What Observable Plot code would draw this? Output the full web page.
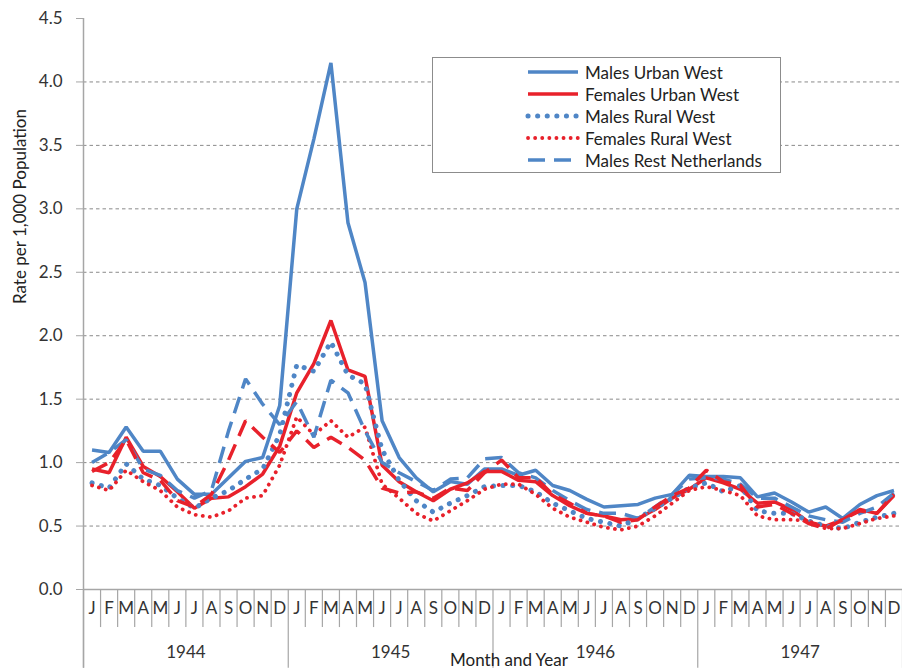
<!DOCTYPE html>
<html><head><meta charset="utf-8">
<script src="https://cdn.jsdelivr.net/npm/d3@7"></script>
<script src="https://cdn.jsdelivr.net/npm/@observablehq/plot@0.6"></script>
<style>
body{margin:0;background:#fff;font-family:Lato,"Open Sans",sans-serif;}
#wrap{position:relative;width:902px;height:670px;overflow:hidden;}
#legend{position:absolute;left:432px;top:57px;width:349px;height:116px;border:1.5px solid #8c8c8c;background:#fff;box-sizing:border-box;}
.row{position:absolute;left:92px;height:22px;display:flex;align-items:center;font-size:17px;color:#222;white-space:nowrap;}
.row svg{margin-right:4px;}
</style></head>
<body><div id="wrap"><div id="chart"></div><div id="legend"></div></div>
<script>
const monthLabels = ["J","F","M","A","M","J","J","A","S","O","N","D"];
const yearLabels = ["1944","1945","1946","1947"];
const yTicks = [0,0.5,1,1.5,2,2.5,3,3.5,4,4.5];

const malesUrbanWest = [
 1.10,1.08,1.28,1.09,1.09,0.87,0.75,0.75,0.88,1.01,1.04,1.45,
 3.00,3.55,4.15,2.89,2.42,1.33,1.04,0.88,0.77,0.85,0.83,0.95,
 0.95,0.90,0.94,0.82,0.78,0.71,0.65,0.66,0.67,0.72,0.75,0.90,
 0.89,0.89,0.88,0.73,0.76,0.69,0.61,0.65,0.56,0.67,0.74,0.78];
const femalesUrbanWest = [
 0.95,0.92,1.20,0.97,0.89,0.77,0.64,0.72,0.73,0.81,0.91,1.13,
 1.55,1.78,2.12,1.73,1.68,0.98,0.85,0.77,0.70,0.79,0.84,0.93,
 0.93,0.86,0.85,0.74,0.66,0.60,0.58,0.55,0.56,0.63,0.72,0.79,
 0.88,0.84,0.79,0.68,0.69,0.63,0.53,0.50,0.55,0.63,0.60,0.74];
const malesRuralWest = [
 0.84,0.80,0.99,0.87,0.82,0.72,0.64,0.72,0.78,0.87,0.95,1.22,
 1.77,1.72,1.95,1.69,1.62,1.10,0.86,0.70,0.61,0.68,0.74,0.81,
 0.82,0.82,0.77,0.68,0.62,0.56,0.53,0.50,0.56,0.64,0.72,0.80,
 0.84,0.77,0.82,0.62,0.60,0.60,0.54,0.50,0.48,0.53,0.57,0.60];
const femalesRuralWest = [
 0.82,0.78,0.94,0.85,0.78,0.65,0.59,0.57,0.62,0.72,0.74,0.98,
 1.36,1.22,1.33,1.20,1.28,0.83,0.72,0.60,0.54,0.62,0.70,0.79,
 0.83,0.83,0.75,0.64,0.57,0.53,0.49,0.47,0.50,0.58,0.68,0.78,
 0.81,0.78,0.74,0.58,0.55,0.55,0.54,0.48,0.48,0.52,0.56,0.58];
const malesRestNetherlands = [
 1.00,1.08,1.18,0.95,0.90,0.78,0.72,0.78,1.25,1.66,1.46,1.30,
 1.48,1.20,1.65,1.55,1.25,1.00,0.92,0.85,0.78,0.87,0.88,1.03,
 1.04,0.92,0.88,0.78,0.70,0.63,0.60,0.60,0.56,0.65,0.75,0.87,
 0.88,0.87,0.83,0.72,0.72,0.65,0.58,0.55,0.53,0.60,0.65,0.76];
const femalesRestNetherlands = [
 0.93,1.00,1.18,0.92,0.86,0.70,0.65,0.75,1.02,1.33,1.20,1.08,
 1.25,1.12,1.20,1.12,1.02,0.80,0.76,0.77,0.72,0.80,0.78,0.92,
 1.02,0.88,0.88,0.75,0.68,0.60,0.58,0.53,0.55,0.65,0.74,0.80,
 0.94,0.85,0.82,0.65,0.67,0.60,0.52,0.48,0.55,0.62,0.60,0.75];

const BLUE = "#4f86c6", RED = "#e8212b";
const series = [
 {name:"Males Urban West", values:malesUrbanWest, color:BLUE, width:3.5, dash:null, cap:"butt", legend:true},
 {name:"Females Urban West", values:femalesUrbanWest, color:RED, width:3.5, dash:null, cap:"butt", legend:true},
 {name:"Males Rural West", values:malesRuralWest, color:BLUE, width:5, dash:"0.1,9.5", cap:"round", legend:true},
 {name:"Females Rural West", values:femalesRuralWest, color:RED, width:3.8, dash:"0.1,7", cap:"round", legend:true},
 {name:"Males Rest Netherlands", values:malesRestNetherlands, color:BLUE, width:3.5, dash:"17,9", cap:"butt", legend:true},
 {name:"Females Rest Netherlands", values:femalesRestNetherlands, color:RED, width:3.5, dash:"17,9", cap:"butt", legend:false}
];

const idx = d3.range(48);
const monthSeps = d3.range(49).map(i => i - 0.5).filter(v => (v + 0.5) % 12 !== 0);
const yearSeps = [-0.5, 11.5, 23.5, 35.5, 47.5];
const yearCenters = [5.5, 17.5, 29.5, 41.5];

const lineMarks = series.map(s => Plot.line(idx.map(i => ({i, v: s.values[i]})), {
  x: "i", y: "v", stroke: s.color, strokeWidth: s.width,
  strokeDasharray: s.dash, strokeLinecap: s.cap, strokeLinejoin: "miter", curve: "linear"
}));

const chart = Plot.plot({
  width: 902, height: 670,
  marginTop: 18, marginBottom: 81, marginLeft: 83, marginRight: 0,
  style: {fontFamily: "Lato, 'Open Sans', sans-serif", fontSize: "16px", color: "#333", background: "#fff"},
  x: {domain: [-0.5, 47.5], axis: null},
  y: {domain: [0, 4.5], axis: null},
  marks: [
    Plot.gridY(yTicks.filter(t => t > 0 && t < 4.5), {stroke: "#8a8a8a", strokeOpacity: 1, strokeDasharray: "3.5,3", strokeWidth: 1}),
    Plot.ruleY([0], {stroke: "#a6a6a6", strokeWidth: 1.5}),
    Plot.ruleX(monthSeps, {y1: 0, y2: -0.3, stroke: "#a6a6a6", strokeWidth: 1.2}),
    Plot.ruleX(yearSeps, {y1: 0, y2: -0.62, stroke: "#a6a6a6", strokeWidth: 1.2}),
    Plot.ruleX([-0.5], {y1: 4.5, y2: -0.62, stroke: "#a6a6a6", strokeWidth: 1.5}),
    Plot.axisY({ticks: yTicks, tickFormat: d3.format(".1f"), tickSize: 7, tickPadding: 14, stroke: "#a6a6a6", fontSize: 17, label: null}),
    Plot.axisX({ticks: idx, tickFormat: i => monthLabels[i % 12], tickSize: 0, tickPadding: 12, fontSize: 17, label: null}),
    Plot.axisX({ticks: yearCenters, tickFormat: (d, k) => yearLabels[k], tickSize: 0, tickPadding: 56, fontSize: 17, label: null}),
    ...lineMarks,
    Plot.text(["Rate per 1,000 Population"], {frameAnchor: "left", dx: -63, rotate: -90, fontSize: 17, fill: "#222"}),
    Plot.text(["Month and Year"], {frameAnchor: "bottom", dx: 16, dy: 76, fontSize: 17, fill: "#222"})
  ]
});
document.getElementById("chart").appendChild(chart);

const legend = document.getElementById("legend");
series.filter(s => s.legend).forEach((s, k) => {
  const row = document.createElement("div");
  row.className = "row";
  row.style.top = (3 + k * 22) + "px";
  row.innerHTML = `<svg width="56" height="10"><line x1="3" y1="5" x2="53" y2="5" stroke="${s.color}" stroke-width="${s.width}" ${s.dash ? `stroke-dasharray="${s.dash}"` : ""} stroke-linecap="${s.cap}"/></svg><span>${s.name}</span>`;
  legend.appendChild(row);
});
</script></body></html>
